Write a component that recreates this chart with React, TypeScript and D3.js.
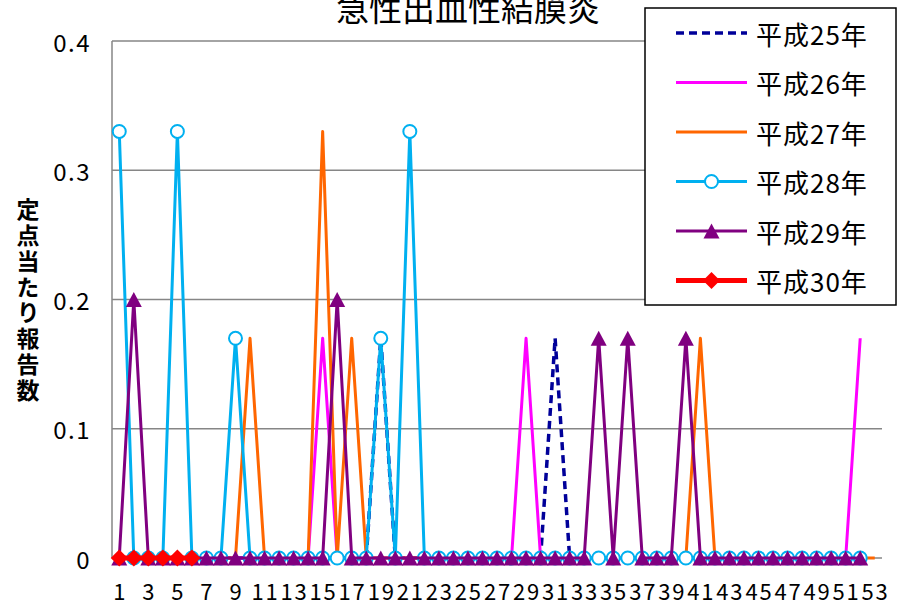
import React from "react";
import * as d3 from "d3";

const weeks: number[] = Array.from({ length: 53 }, (_, i) => i + 1);
const tickLabels: string[] = weeks.filter((w) => w % 2 === 1).map(String);
const yTicks: number[] = [0, 0.1, 0.2, 0.3, 0.4];

// 平成25年 (52 weeks)
const h25: number[] = [
  0, 0, 0, 0, 0, 0, 0, 0, 0, 0, 0, 0, 0, 0, 0, 0, 0, 0, 0.17, 0,
  0, 0, 0, 0, 0, 0, 0, 0, 0, 0, 0.17, 0, 0, 0, 0, 0, 0, 0, 0, 0,
  0, 0, 0, 0, 0, 0, 0, 0, 0, 0, 0, 0,
];
// 平成26年
const h26: number[] = [
  0, 0, 0, 0, 0, 0, 0, 0, 0, 0, 0, 0, 0, 0, 0.17, 0, 0, 0, 0, 0,
  0, 0, 0, 0, 0, 0, 0, 0, 0.17, 0, 0, 0, 0, 0, 0, 0, 0, 0, 0, 0,
  0, 0, 0, 0, 0, 0, 0, 0, 0, 0, 0, 0.17,
];
// 平成27年 (53 weeks)
const h27: number[] = [
  0, 0, 0, 0, 0, 0, 0, 0, 0, 0.17, 0, 0, 0, 0, 0.33, 0, 0.17, 0, 0, 0,
  0, 0, 0, 0, 0, 0, 0, 0, 0, 0, 0, 0, 0, 0, 0, 0, 0, 0, 0, 0,
  0.17, 0, 0, 0, 0, 0, 0, 0, 0, 0, 0, 0, 0,
];
// 平成28年
const h28: number[] = [
  0.33, 0, 0, 0, 0.33, 0, 0, 0, 0.17, 0, 0, 0, 0, 0, 0, 0, 0, 0, 0.17, 0,
  0.33, 0, 0, 0, 0, 0, 0, 0, 0, 0, 0, 0, 0, 0, 0, 0, 0, 0, 0, 0,
  0, 0, 0, 0, 0, 0, 0, 0, 0, 0, 0, 0,
];
// 平成29年
const h29: number[] = [
  0, 0.2, 0, 0, 0, 0, 0, 0, 0, 0, 0, 0, 0, 0, 0, 0.2, 0, 0, 0, 0,
  0, 0, 0, 0, 0, 0, 0, 0, 0, 0, 0, 0, 0, 0.17, 0, 0.17, 0, 0, 0, 0.17,
  0, 0, 0, 0, 0, 0, 0, 0, 0, 0, 0, 0,
];
// 平成30年
const h30: number[] = [0, 0, 0, 0, 0, 0];

type Marker = "none" | "circle" | "triangle" | "diamond";
interface Series {
  name: string;
  values: number[];
  color: string;
  width: number;
  dash?: string;
  marker: Marker;
}

const seriesList: Series[] = [
  { name: "平成25年", values: h25, color: "#000099", width: 3.5, dash: "8,5", marker: "none" },
  { name: "平成26年", values: h26, color: "#FF00FF", width: 3, marker: "none" },
  { name: "平成27年", values: h27, color: "#FF6600", width: 3, marker: "none" },
  { name: "平成28年", values: h28, color: "#00B0F0", width: 3, marker: "circle" },
  { name: "平成29年", values: h29, color: "#800080", width: 3, marker: "triangle" },
  { name: "平成30年", values: h30, color: "#FF0000", width: 5, marker: "diamond" },
];

const W = 897;
const H = 607;
const left = 112;
const right = 882;
const top = 41;
const bottom = 558;
const FONT = "'Noto Sans CJK JP', 'Noto Sans', sans-serif";

function MarkerShape({ type, cx, cy, color }: { type: Marker; cx: number; cy: number; color: string }) {
  if (type === "circle") {
    return <circle cx={cx} cy={cy} r={6.5} fill="#fff" stroke={color} strokeWidth={2} />;
  }
  if (type === "triangle") {
    const w = 8, h = 7.5;
    return <path d={`M${cx},${cy - h}L${cx + w},${cy + h}L${cx - w},${cy + h}Z`} fill={color} />;
  }
  if (type === "diamond") {
    const s = 8.5;
    return <path d={`M${cx},${cy - s}L${cx + s},${cy}L${cx},${cy + s}L${cx - s},${cy}Z`} fill={color} />;
  }
  return null;
}

export default function App() {
  const x = d3.scaleBand<number>().domain(weeks).range([left, right]).padding(0);
  const xc = (w: number) => (x(w) as number) + x.bandwidth() / 2;
  const y = d3.scaleLinear().domain([0, 0.4]).range([bottom, top]);

  const line = d3
    .line<number>()
    .x((_, i) => xc(weeks[i]))
    .y((d) => y(d));

  const legendX1 = 676;
  const legendX2 = 747;
  const legendY0 = 33;
  const legendStep = 49.5;

  return (
    <div style={{ position: "absolute", left: 0, top: 0 }}>
      <svg width={W} height={H} style={{ display: "block", background: "#fff" }}>
        {/* gridlines */}
        {yTicks.map((t) => (
          <line key={t} x1={left} x2={right} y1={y(t)} y2={y(t)} stroke="#868686" strokeWidth={1.5} />
        ))}
        <line x1={left} x2={left} y1={top} y2={bottom} stroke="#868686" strokeWidth={1.5} />

        {/* y tick labels */}
        {yTicks.map((t) => (
          <text
            key={t}
            x={91}
            y={y(t)}
            textAnchor="end"
            dominantBaseline="central"
            fontFamily={FONT}
            fontSize={24}
            letterSpacing={1.5}
            fill="#000"
          >
            {t === 0 ? "0" : t.toFixed(1)}
          </text>
        ))}

        {/* x tick labels */}
        {tickLabels.map((l) => (
          <text
            key={l}
            x={xc(+l) + 0.9}
            y={600}
            textAnchor="middle"
            fontFamily={FONT}
            fontSize={22}
            letterSpacing={1.8}
            fill="#000"
          >
            {l}
          </text>
        ))}

        {/* series */}
        {seriesList.map((s) => (
          <g key={s.name}>
            <path
              d={line(s.values) || ""}
              fill="none"
              stroke={s.color}
              strokeWidth={s.width}
              strokeDasharray={s.dash}
              strokeLinejoin="round"
            />
            {s.marker !== "none" &&
              s.values.map((v, i) => (
                <MarkerShape key={i} type={s.marker} cx={xc(weeks[i])} cy={y(v)} color={s.color} />
              ))}
          </g>
        ))}

        {/* title */}
        <text x={468} y={21} textAnchor="middle" fontFamily={FONT} fontSize={33} fill="#000">
          急性出血性結膜炎
        </text>

        {/* y axis label */}
        <text
          x={28}
          y={198}
          fontFamily={FONT}
          fontSize={23}
          fontWeight={700}
          letterSpacing={2.8}
          fill="#000"
          style={{ writingMode: "vertical-rl", textOrientation: "upright" } as React.CSSProperties}
        >
          定点当たり報告数
        </text>

        {/* legend */}
        <rect x={645} y={8} width={251} height={297} fill="#fff" stroke="#000" strokeWidth={1.5} />
        {seriesList.map((s, i) => {
          const ly = legendY0 + i * legendStep;
          const mx = (legendX1 + legendX2) / 2;
          return (
            <g key={s.name}>
              <line
                x1={legendX1}
                x2={legendX2}
                y1={ly}
                y2={ly}
                stroke={s.color}
                strokeWidth={s.width}
                strokeDasharray={s.dash}
              />
              <MarkerShape type={s.marker} cx={mx} cy={ly} color={s.color} />
              <text
                x={756}
                y={ly}
                dominantBaseline="central"
                fontFamily={FONT}
                fontSize={26}
                letterSpacing={1}
                fill="#000"
              >
                {s.name}
              </text>
            </g>
          );
        })}
      </svg>
    </div>
  );
}
